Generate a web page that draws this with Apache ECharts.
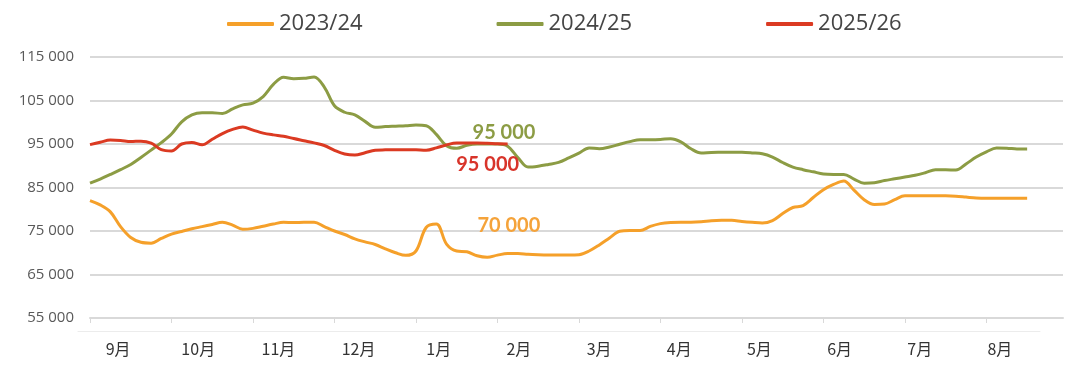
<!DOCTYPE html>
<html>
<head>
<meta charset="utf-8">
<script src="https://cdn.jsdelivr.net/npm/echarts@6/dist/echarts.min.js"></script>
<style>html,body{margin:0;padding:0;background:#fff}#c{width:1080px;height:368px}</style>
</head>
<body>
<div id="c"></div>
<script>
// Month labels (season runs Sep -> Aug)
const months = ['9月','10月','11月','12月','1月','2月','3月','4月','5月','6月','7月','8月'];
const seriesNames = ['2023/24','2024/25','2025/26'];
// y-axis tick values
const yTicks = [55000,65000,75000,85000,95000,105000,115000];
// sampling step: values every 1/8 month from the start of September
const stepPerMonth = 8;

const s2023 = [82000,81000,79400,76000,73500,72400,72200,73300,74300,74900,
  75500,76000,76500,77000,76350,75400,75600,76100,76600,77000,
  76950,77000,77000,76000,75000,74200,73200,72500,71900,70900,
  70000,69400,70400,75800,76600,72000,70400,70230,69300,68950,
  69450,69800,69800,69650,69550,69480,69460,69460,69540,70400,
  71800,73400,74950,75100,75100,76050,76700,76950,77000,77000,
  77100,77360,77460,77460,77200,77000,76850,77400,79000,80400,
  80850,82700,84500,85700,86500,84400,82200,81100,81200,82200,
  83080,83080,83080,83080,83080,83000,82800,82600,82540,82540,
  82540,82540,82540];

const s2024 = [86000,86950,88000,89100,90300,91900,93600,95300,97300,100100,
  101700,102200,102200,102000,103100,104000,104400,105900,108700,110350,
  110000,110100,110400,108100,103800,102300,101700,100200,98850,99000,
  99100,99200,99350,99200,97200,94600,94000,94700,95000,95000,
  95000,94500,91900,89700,89900,90300,90770,91800,92900,94100,
  93900,94300,94950,95550,96000,96000,96050,96200,95500,93900,
  92950,93070,93100,93130,93100,92950,92750,92000,90750,89700,
  89100,88600,88100,88000,88000,86950,86000,86100,86600,87000,
  87400,87800,88400,89100,89100,89000,90400,92000,93200,94080,
  94050,93870,93850];

const s2025 = [94850,95400,95900,95800,95570,95650,95200,93700,93400,95000,
  95350,94800,96100,97400,98350,98900,98200,97500,97100,96800,
  96250,95750,95250,94650,93550,92700,92450,93000,93560,93650,
  93700,93700,93670,93560,94100,94800,95230,95230,95220,95150,
  95050,95000];

// annotation values shown on the chart
const noteValues = {'2023/24':70000,'2024/25':95000,'2025/26':95000};

const colors = ['#F5A02A','#8C9C44','#DB3A22'];
const fmt = v => String(v).replace(/\B(?=(\d{3})+(?!\d))/g, ' ');
const toPairs = arr => arr.map((v,i) => [i/stepPerMonth, v]);

function note(seriesName, coord, color){
  return {
    symbol:'circle', symbolSize:1, silent:true,
    itemStyle:{color:'rgba(0,0,0,0)'},
    label:{show:true, position:'inside', formatter: fmt(noteValues[seriesName]),
      color:color, fontSize:20, fontWeight:'bold', fontFamily:'Lato'},
    data:[{coord:coord}]
  };
}

const chart = echarts.init(document.getElementById('c'), null, {renderer:'canvas'});
chart.setOption({
  animation:false,
  color: colors,
  legend:{
    data: seriesNames,
    left: 222, top: 8,
    icon:'roundRect', itemWidth:47, itemHeight:4, itemGap:134,
    textStyle:{fontSize:22, color:'#454545', fontFamily:'Open Sans'}
  },
  grid:[
    {left:90, right:17, top:57, bottom:50},
    {left:78, right:40, top:329, bottom:37}
  ],
  xAxis:[
    {type:'value', gridIndex:0, min:0, max:11.94, interval:1,
     axisLine:{show:true, lineStyle:{color:'#d9d9d9', width:2}},
     axisTick:{show:true, length:5, lineStyle:{color:'#d9d9d9', width:1},
       customValues: months.map((m,i)=>i)},
     axisLabel:{show:false}, splitLine:{show:false}},
    {type:'category', gridIndex:1, data: months, boundaryGap:true,
     axisLine:{show:true, lineStyle:{color:'#ececec', width:1}},
     axisTick:{show:false},
     axisLabel:{margin:10, fontSize:16, color:'#333', fontFamily:'Noto Sans CJK SC'}}
  ],
  yAxis:[
    {type:'value', gridIndex:0, min:yTicks[0], max:yTicks[yTicks.length-1], interval:10000,
     axisLine:{show:false}, axisTick:{show:false},
     axisLabel:{margin:16, fontSize:15, color:'#595959', fontFamily:'Open Sans', formatter: fmt},
     splitLine:{lineStyle:{color:'#d9d9d9', width:2}}},
    {type:'value', gridIndex:1, show:false}
  ],
  series:[
    {name:seriesNames[0], type:'line', xAxisIndex:0, yAxisIndex:0, data: toPairs(s2023),
     smooth:0.35, showSymbol:false, lineStyle:{width:3, color:colors[0]},
     markPoint: note('2023/24', [5.14, 76150], '#F5A33A')},
    {name:seriesNames[1], type:'line', xAxisIndex:0, yAxisIndex:0, data: toPairs(s2024),
     smooth:0.35, showSymbol:false, lineStyle:{width:3, color:colors[1]},
     markPoint: note('2024/25', [5.08, 97530], '#8C9C44')},
    {name:seriesNames[2], type:'line', xAxisIndex:0, yAxisIndex:0, data: toPairs(s2025),
     smooth:0.35, showSymbol:false, lineStyle:{width:3, color:colors[2]}, z:3,
     markPoint: note('2025/26', [4.88, 90170], '#D8342A')}
  ]
});
</script>
</body>
</html>
